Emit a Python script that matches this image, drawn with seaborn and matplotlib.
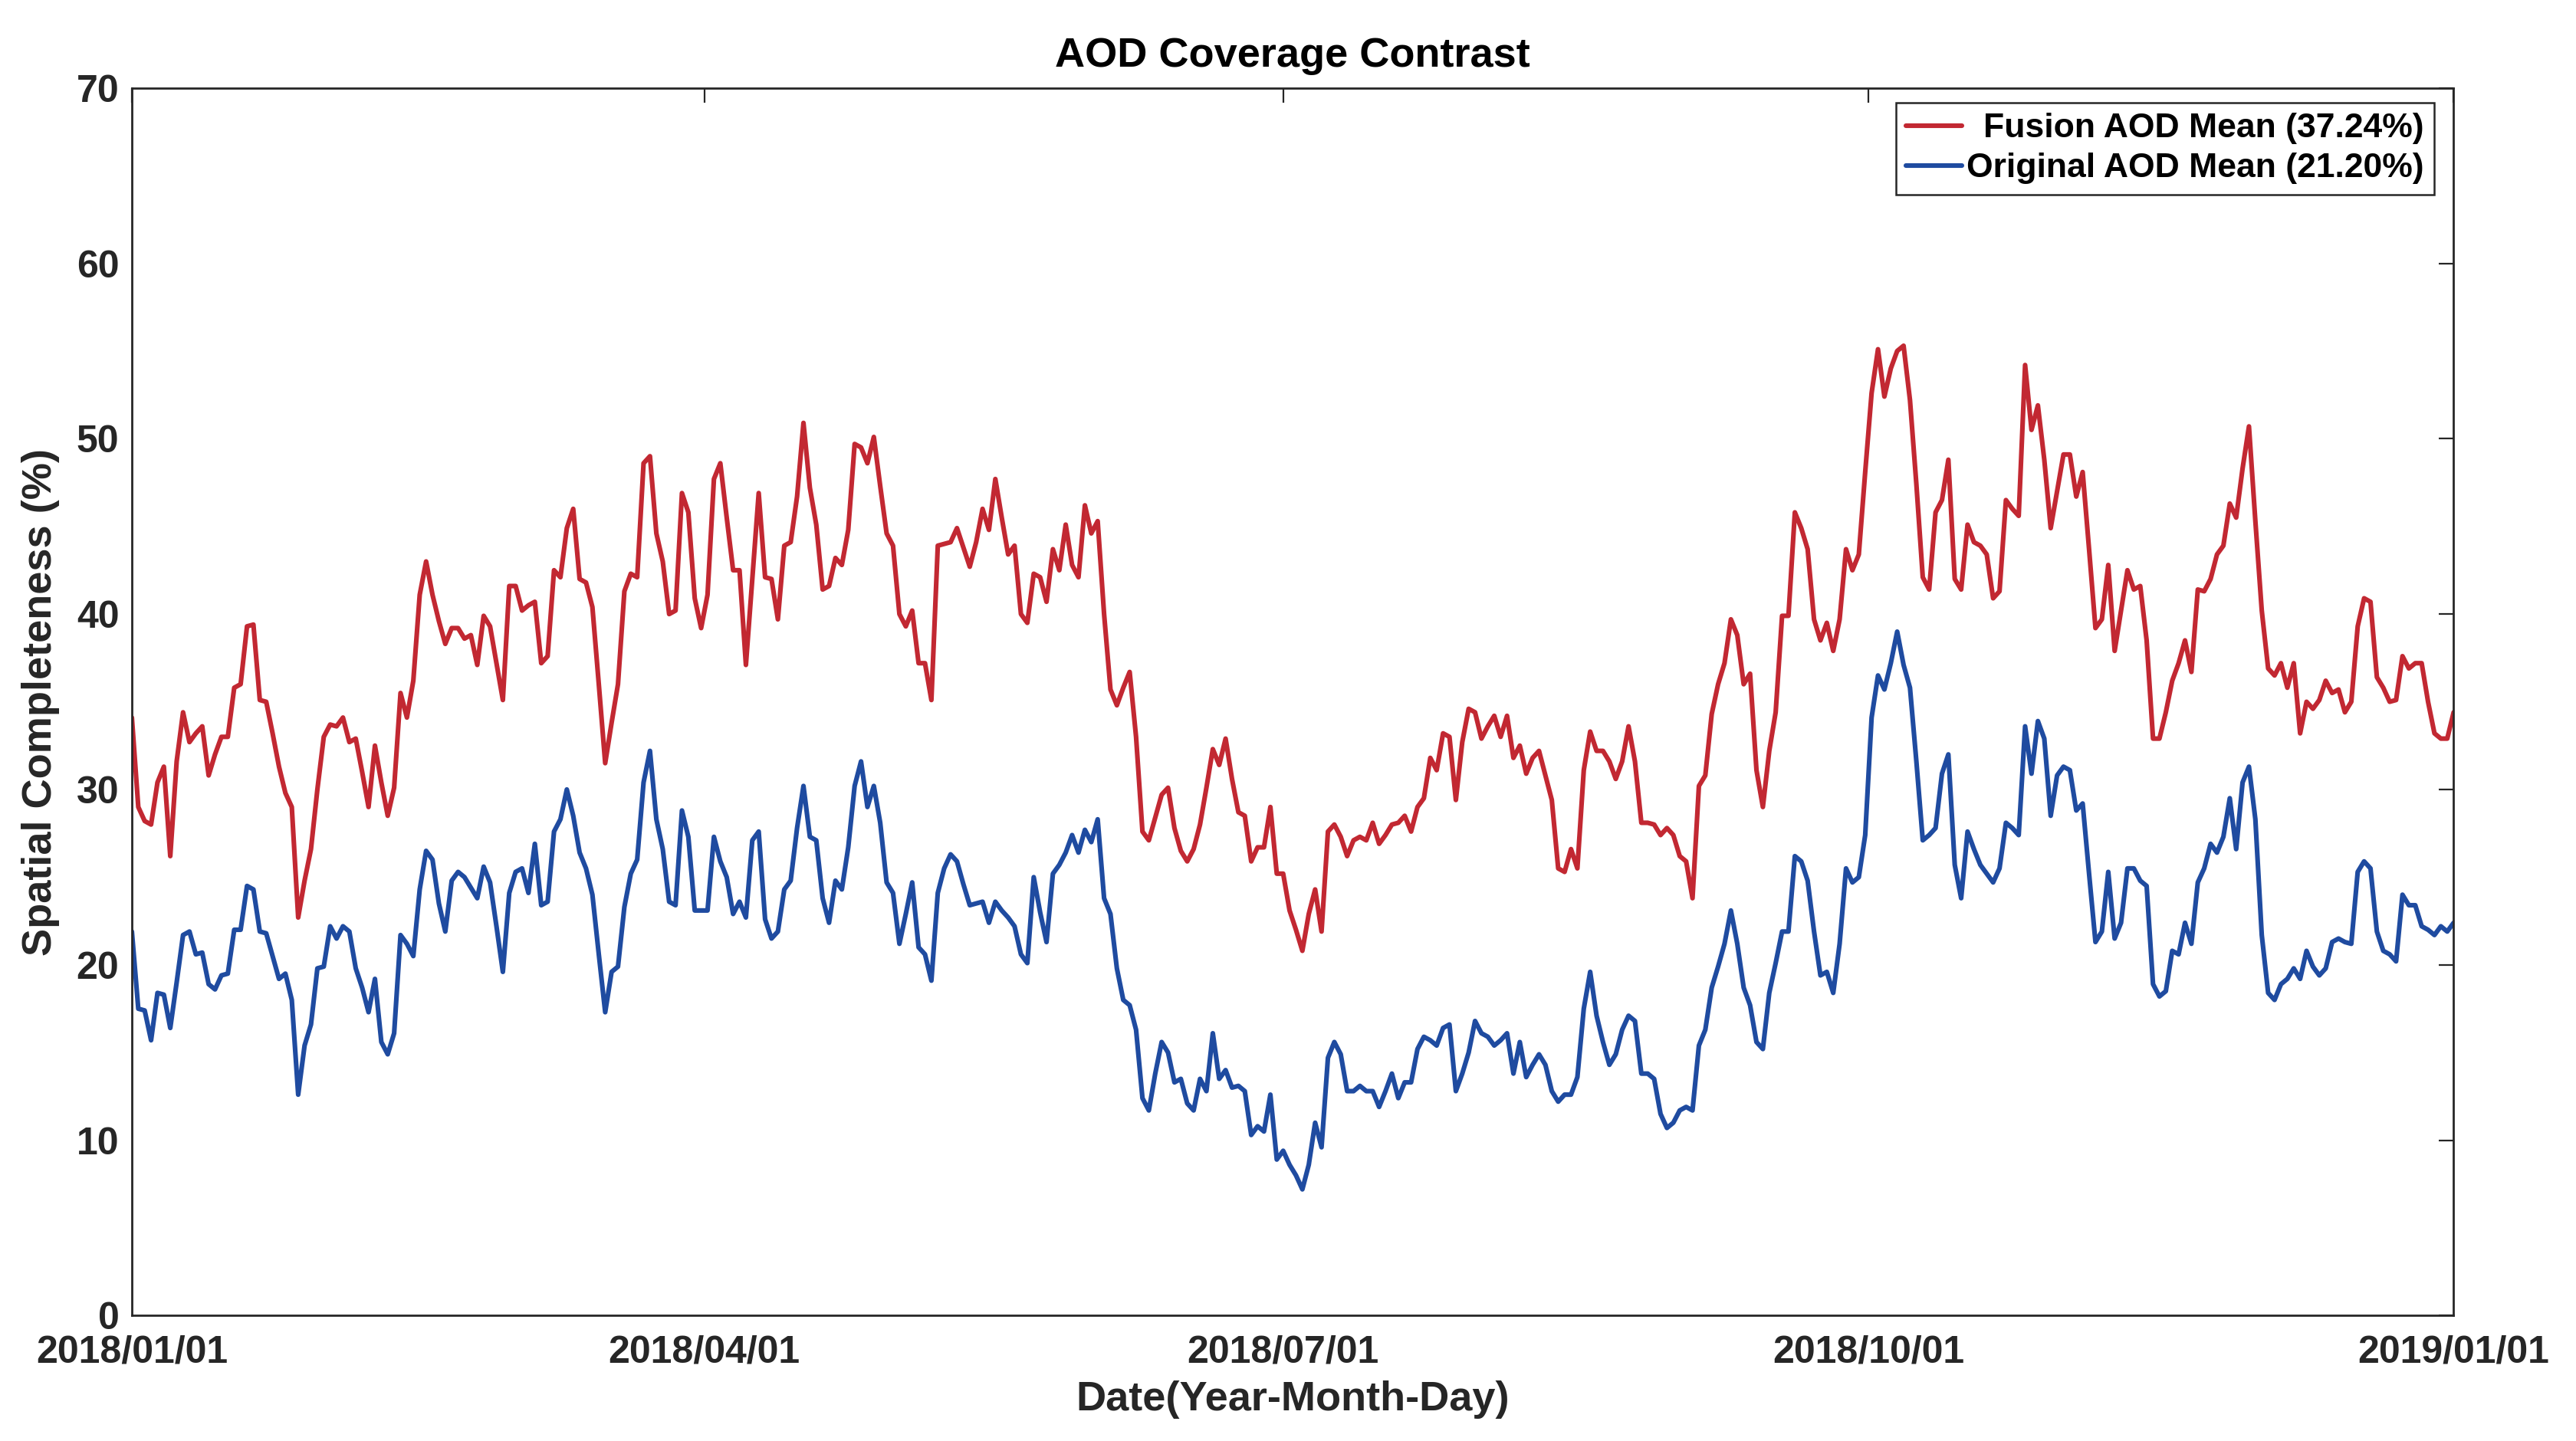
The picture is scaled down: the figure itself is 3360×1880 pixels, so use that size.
import numpy as np
import pandas as pd
import matplotlib
matplotlib.use("Agg")
import matplotlib.pyplot as plt
import matplotlib.dates as mdates
import seaborn as sns

# ---------------- data ----------------
fusion_mean = [
    34.1, 29.0, 28.2, 28.0, 30.4, 31.3, 26.2, 31.6, 34.4, 32.7,
    33.2, 33.6, 30.8, 32.0, 33.0, 33.0, 35.8, 36.0, 39.3, 39.4,
    35.1, 35.0, 33.2, 31.3, 29.8, 29.0, 22.7, 24.8, 26.6, 30.0,
    33.0, 33.7, 33.6, 34.1, 32.7, 32.9, 31.0, 29.0, 32.5, 30.4,
    28.5, 30.1, 35.5, 34.1, 36.2, 41.1, 43.0, 41.1, 39.6, 38.3,
    39.2, 39.2, 38.6, 38.8, 37.1, 39.9, 39.3, 37.2, 35.1, 41.6,
    41.6, 40.2, 40.5, 40.7, 37.2, 37.6, 42.5, 42.1, 44.9, 46.0,
    42.0, 41.8, 40.4, 36.0, 31.5, 33.8, 36.0, 41.3, 42.3, 42.1,
    48.6, 49.0, 44.6, 43.0, 40.0, 40.2, 46.9, 45.8, 40.9, 39.2,
    41.1, 47.7, 48.6, 45.5, 42.5, 42.5, 37.1, 42.0, 46.9, 42.1,
    42.0, 39.7, 43.9, 44.1, 46.7, 50.9, 47.2, 45.1, 41.4, 41.6,
    43.2, 42.8, 44.8, 49.7, 49.5, 48.6, 50.1, 47.3, 44.6, 43.9,
    40.0, 39.3, 40.2, 37.2, 37.2, 35.1, 43.9, 44.0, 44.1, 44.9,
    43.8, 42.7, 44.1, 46.0, 44.8, 47.7, 45.5, 43.4, 43.9, 40.0,
    39.5, 42.3, 42.1, 40.7, 43.7, 42.5, 45.1, 42.8, 42.1, 46.2,
    44.6, 45.3, 40.0, 35.7, 34.8, 35.8, 36.7, 33.0, 27.6, 27.1,
    28.4, 29.7, 30.1, 27.8, 26.5, 25.9, 26.6, 28.0, 30.1, 32.3,
    31.4, 32.9, 30.6, 28.7, 28.5, 25.9, 26.7, 26.7, 29.0, 25.2,
    25.2, 23.1, 22.0, 20.8, 22.9, 24.3, 21.9, 27.6, 28.0, 27.3,
    26.2, 27.1, 27.3, 27.1, 28.1, 26.9, 27.4, 28.0, 28.1, 28.5,
    27.6, 29.0, 29.5, 31.8, 31.1, 33.2, 33.0, 29.4, 32.7, 34.6,
    34.4, 32.9, 33.6, 34.2, 33.0, 34.2, 31.8, 32.5, 30.9, 31.8,
    32.2, 30.8, 29.4, 25.5, 25.3, 26.6, 25.5, 31.1, 33.3, 32.2,
    32.2, 31.6, 30.6, 31.6, 33.6, 31.6, 28.1, 28.1, 28.0, 27.4,
    27.8, 27.4, 26.2, 25.9, 23.8, 30.2, 30.8, 34.3, 36.0, 37.2,
    39.7, 38.8, 36.0, 36.6, 31.1, 29.0, 32.2, 34.4, 39.9, 39.9,
    45.8, 44.9, 43.7, 39.7, 38.5, 39.5, 37.9, 39.7, 43.7, 42.5,
    43.4, 48.1, 52.6, 55.1, 52.4, 54.0, 55.0, 55.3, 52.2, 47.4,
    42.1, 41.4, 45.8, 46.5, 48.8, 42.0, 41.4, 45.1, 44.1, 43.9,
    43.4, 40.9, 41.3, 46.5, 46.0, 45.6, 54.2, 50.5, 51.9, 48.8,
    44.9, 47.0, 49.1, 49.1, 46.7, 48.1, 43.7, 39.2, 39.7, 42.8,
    37.9, 40.2, 42.5, 41.4, 41.6, 38.5, 32.9, 32.9, 34.4, 36.2,
    37.2, 38.5, 36.7, 41.4, 41.3, 42.0, 43.4, 43.9, 46.3, 45.5,
    48.3, 50.7, 45.3, 40.2, 36.9, 36.5, 37.2, 35.8, 37.2, 33.2,
    35.0, 34.6, 35.1, 36.2, 35.5, 35.7, 34.4, 35.0, 39.3, 40.9,
    40.7, 36.4, 35.8, 35.0, 35.1, 37.6, 36.9, 37.2, 37.2, 35.0,
    33.2, 32.9, 32.9, 34.4,
]

original_mean = [
    21.9, 17.5, 17.4, 15.7, 18.4, 18.3, 16.4, 19.0, 21.7, 21.9,
    20.6, 20.7, 18.9, 18.6, 19.4, 19.5, 22.0, 22.0, 24.5, 24.3,
    21.9, 21.8, 20.5, 19.2, 19.5, 18.0, 12.6, 15.4, 16.6, 19.8,
    19.9, 22.2, 21.5, 22.2, 21.9, 19.8, 18.7, 17.3, 19.2, 15.6,
    14.9, 16.1, 21.7, 21.2, 20.5, 24.3, 26.5, 26.0, 23.5, 21.9,
    24.8, 25.3, 25.0, 24.4, 23.8, 25.6, 24.7, 22.2, 19.6, 24.1,
    25.3, 25.5, 24.1, 26.9, 23.4, 23.6, 27.6, 28.3, 30.0, 28.5,
    26.4, 25.5, 24.0, 20.6, 17.3, 19.6, 19.9, 23.3, 25.2, 26.0,
    30.4, 32.2, 28.3, 26.6, 23.6, 23.4, 28.8, 27.3, 23.1, 23.1,
    23.1, 27.3, 25.9, 25.0, 22.9, 23.6, 22.7, 27.1, 27.6, 22.6,
    21.5, 21.9, 24.3, 24.8, 27.8, 30.2, 27.3, 27.1, 23.8, 22.4,
    24.8, 24.3, 26.7, 30.2, 31.6, 29.0, 30.2, 28.1, 24.7, 24.1,
    21.2, 22.9, 24.7, 21.0, 20.6, 19.1, 24.1, 25.5, 26.3, 25.9,
    24.6, 23.4, 23.5, 23.6, 22.4, 23.6, 23.1, 22.7, 22.2, 20.6,
    20.1, 25.0, 23.0, 21.3, 25.2, 25.7, 26.4, 27.4, 26.4, 27.7,
    27.0, 28.3, 23.8, 22.9, 19.8, 18.0, 17.7, 16.3, 12.4, 11.7,
    13.8, 15.6, 15.0, 13.3, 13.5, 12.1, 11.7, 13.5, 12.8, 16.1,
    13.5, 14.0, 13.0, 13.1, 12.8, 10.3, 10.8, 10.5, 12.6, 8.9,
    9.4, 8.6, 8.0, 7.2, 8.6, 11.0, 9.6, 14.7, 15.6, 14.9,
    12.8, 12.8, 13.1, 12.8, 12.8, 11.9, 12.8, 13.8, 12.4, 13.3,
    13.3, 15.2, 15.9, 15.7, 15.4, 16.4, 16.6, 12.8, 13.8, 15.0,
    16.8, 16.1, 15.9, 15.4, 15.7, 16.1, 13.8, 15.6, 13.6, 14.3,
    14.9, 14.3, 12.8, 12.2, 12.6, 12.6, 13.6, 17.5, 19.6, 17.1,
    15.6, 14.3, 14.9, 16.3, 17.1, 16.8, 13.8, 13.8, 13.5, 11.5,
    10.7, 11.0, 11.7, 11.9, 11.7, 15.4, 16.3, 18.7, 19.9, 21.2,
    23.1, 21.2, 18.7, 17.7, 15.6, 15.2, 18.4, 20.1, 21.9, 21.9,
    26.2, 25.9, 24.8, 21.9, 19.4, 19.6, 18.4, 21.2, 25.5, 24.7,
    25.0, 27.4, 34.1, 36.5, 35.7, 37.2, 39.0, 37.1, 35.8, 31.6,
    27.1, 27.4, 27.8, 30.9, 32.0, 25.7, 23.8, 27.6, 26.6, 25.7,
    25.2, 24.7, 25.5, 28.1, 27.8, 27.4, 33.6, 30.9, 33.9, 32.9,
    28.5, 30.8, 31.3, 31.1, 28.8, 29.2, 25.2, 21.3, 21.9, 25.3,
    21.5, 22.4, 25.5, 25.5, 24.8, 24.5, 18.9, 18.2, 18.5, 20.8,
    20.6, 22.4, 21.2, 24.7, 25.5, 26.9, 26.4, 27.3, 29.5, 26.6,
    30.4, 31.3, 28.3, 21.7, 18.4, 18.0, 18.9, 19.2, 19.8, 19.2,
    20.8, 19.9, 19.4, 19.8, 21.3, 21.5, 21.3, 21.2, 25.3, 25.9,
    25.5, 21.9, 20.8, 20.6, 20.2, 24.0, 23.4, 23.4, 22.2, 22.0,
    21.7, 22.2, 21.9, 22.4,
]

start_date = "2018-01-01"
end_date = "2019-01-01"
tick_dates = ["2018-01-01", "2018-04-01", "2018-07-01", "2018-10-01", "2019-01-01"]
series_labels = ["Fusion AOD Mean (37.24%)", "Original AOD Mean (21.20%)"]
y_ticks = [0, 10, 20, 30, 40, 50, 60, 70]
title_text = "AOD Coverage Contrast"
x_label = "Date(Year-Month-Day)"
y_label = "Spatial Completeness (%)"

# ---------------- build table ----------------
n = len(fusion_mean)
dates = pd.date_range(start_date, end_date, periods=n)
df = pd.DataFrame({
    "date": list(dates) + list(dates),
    "value": fusion_mean + original_mean,
    "series": [series_labels[0]] * n + [series_labels[1]] * len(original_mean),
})

# ---------------- style ----------------
sns.set_theme(style="white")
plt.rcParams["font.family"] = ["Liberation Sans", "DejaVu Sans"]
plt.rcParams["font.weight"] = "bold"
plt.rcParams["axes.labelweight"] = "bold"
plt.rcParams["axes.titleweight"] = "bold"

ink = "#262626"
palette = {series_labels[0]: "#C22832", series_labels[1]: "#1F4BA0"}

fig = plt.figure(figsize=(16.8, 9.4), dpi=200)
ax = fig.add_axes([0.0512, 0.087, 0.9013, 0.852])

sns.lineplot(data=df, x="date", y="value", hue="series",
             hue_order=series_labels, palette=palette,
             estimator=None, linewidth=2.2, ax=ax)

ax.set_xlim(dates[0], dates[-1])
ax.set_ylim(0, 70)
ax.set_yticks(y_ticks)
ax.set_xticks(pd.to_datetime(tick_dates))
ax.xaxis.set_major_formatter(mdates.DateFormatter("%Y/%m/%d"))

ax.tick_params(axis="both", direction="in", top=True, right=True,
               length=7, width=0.8, color=ink, labelcolor=ink,
               labelsize=18)
ax.tick_params(axis="x", pad=9)
ax.tick_params(axis="y", pad=6)
for lab in ax.get_xticklabels() + ax.get_yticklabels():
    lab.set_fontweight("bold")
for sp in ax.spines.values():
    sp.set_visible(True)
    sp.set_color(ink)
    sp.set_linewidth(1.0)

ax.set_title(title_text, fontsize=19.5, fontweight="bold", color="black", pad=10)
ax.set_xlabel(x_label, fontsize=19.5, fontweight="bold", color=ink, labelpad=5)
ax.set_ylabel(y_label, fontsize=19.5, fontweight="bold", color=ink, labelpad=8)

handles, labels = ax.get_legend_handles_labels()
leg = ax.legend(handles, labels, loc="upper right",
                bbox_to_anchor=(0.9915, 0.988), fontsize=16,
                frameon=True, fancybox=False, framealpha=1,
                edgecolor=ink, borderpad=0.3, labelspacing=0.25,
                handlelength=1.65, handletextpad=0.12, borderaxespad=0.0)
leg.get_frame().set_linewidth(0.9)
for h in leg.get_lines():
    h.set_linewidth(2.2)
for t in leg.get_texts():
    t.set_color("black")
    t.set_fontweight("bold")

# right-align legend texts like the reference
fig.canvas.draw()
renderer = fig.canvas.get_renderer()
texts = leg.get_texts()
widths = [t.get_window_extent(renderer).width for t in texts]
wmax = max(widths)
for t, w in zip(texts, widths):
    t.set_position((wmax - w, 0))

fig.savefig("out.png", dpi=200, facecolor="white")
